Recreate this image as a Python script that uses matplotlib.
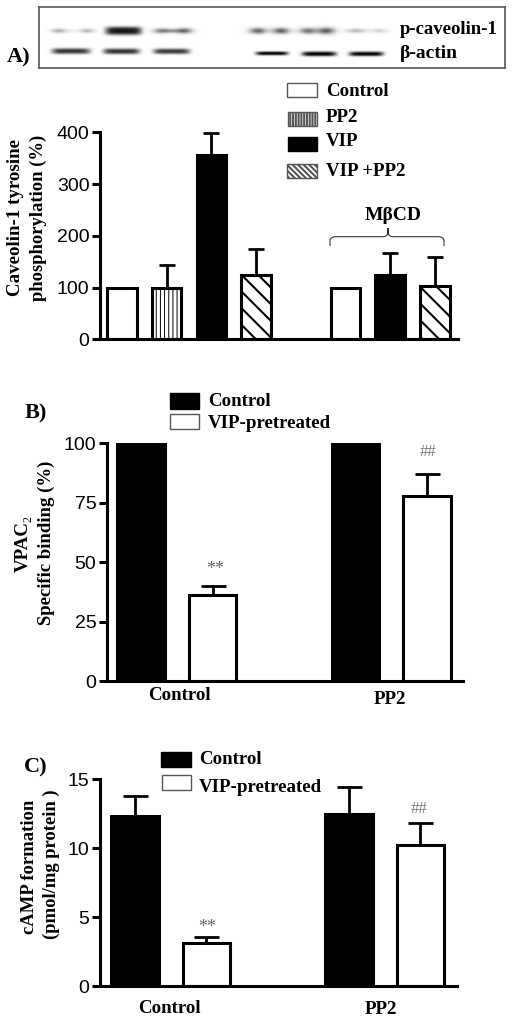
import numpy as np
import matplotlib
matplotlib.use("Agg")
import matplotlib.pyplot as plt
from matplotlib.patches import Rectangle, PathPatch
from matplotlib.path import Path
from matplotlib.transforms import Affine2D

W, H = 512, 1022
SERIF = "Liberation Serif"
SANS = "Liberation Sans"

# Panel A data
a_pos = [0, 1, 2, 3, 5, 6, 7]
a_vals = [100, 100, 357, 125, 100, 125, 103]
a_errs = [0, 44, 41, 50, 0, 42, 56]
a_face = ["white", "white", "black", "white", "white", "black", "white"]
a_hatch = ["", "||||", "", "\\\\", "", "", "\\\\"]
a_ticks = [0, 100, 200, 300, 400]

# Panel B data
b_pos = [0, 1, 3, 4]
b_vals = [100, 36, 100, 78]
b_errs = [0, 4, 0, 9]
b_ticks = [0, 25, 50, 75, 100]

# Panel C data
c_pos = [0, 1, 3, 4]
c_vals = [12.3, 3.1, 12.5, 10.2]
c_errs = [1.5, 0.5, 1.9, 1.6]
c_ticks = [0, 5, 10, 15]

pair_face = ["black", "white", "black", "white"]

plt.rcParams["hatch.linewidth"] = 1.5
fig = plt.figure(figsize=(W / 100, H / 100), dpi=100, facecolor="white")
# pixel coordinates, origin at top-left of the image
px = Affine2D().scale(1 / W, -1 / H).translate(0, 1) + fig.transFigure


def make_axes(x0, x1, ytop, ybot):
    ax = fig.add_axes([x0 / W, 1 - ybot / H, (x1 - x0) / W, (ybot - ytop) / H])
    ax.patch.set_alpha(0)
    for s in ("top", "right"):
        ax.spines[s].set_visible(False)
    for s in ("left", "bottom"):
        ax.spines[s].set_linewidth(2.2)
    ax.set_xticks([])
    ax.tick_params(axis="y", length=6, width=2.2, pad=1.5, labelsize=14)
    return ax


def bars(ax, pos, vals, errs, faces, hatches, width, cap, lw=2.2):
    container = ax.bar(pos, vals, width=width, color=faces, edgecolor="black", linewidth=lw,
                       hatch=hatches, zorder=2)
    for patch in container:
        if patch.get_hatch() == "||||":
            patch.set_hatch_linewidth(0.7)
    for p, v, e in zip(pos, vals, errs):
        if e > 0:
            ax.errorbar([p], [v], yerr=[[0], [e]], color="black", elinewidth=2.0,
                        capsize=cap, capthick=2.0, zorder=1, fmt="none", clip_on=False)


def finish_ticks(ax):
    for lab in ax.get_yticklabels():
        lab.set_family(SANS)


def txt(x, y, s, size=13.6, ha="left", va="center", rot=0, color="black",
        weight="bold", family=SERIF):
    fig.text(x, y, s, transform=px, fontsize=size, ha=ha, va=va, rotation=rot,
             color=color, fontweight=weight, family=family)


def swatch(x0, x1, y0, y1, face, edge="#555555", hatch=None, lw=1.0):
    fig.add_artist(Rectangle((x0, y0), x1 - x0, y1 - y0, transform=px, facecolor=face,
                             edgecolor=edge, linewidth=lw, hatch=hatch))


# ---------- blot ----------
top_bands = [(58, 5, 1.5, 0.30), (70, 8, 1.2, 0.08), (87, 5, 1.5, 0.28),
             (161, 6, 1.7, 0.48), (171, 5, 1.2, 0.25), (183, 6, 1.8, 0.60),
             (257, 6, 2.0, 0.60), (280, 6, 2.0, 0.62),
             (307, 6, 2.0, 0.55), (325, 6, 2.2, 0.65), (355, 7, 1.5, 0.28), (378, 6, 1.5, 0.18)]
strong_band = (123, 18, 3.6, 0.92)
act_bands = [(70.5, 19, 2.5, 0.80), (121, 18, 2.5, 0.80), (171, 18, 2.4, 0.78),
             (271, 16, 1.7, 1.00), (318, 17, 2.1, 1.00), (365, 17, 2.0, 1.00)]
act_rows = [50.8, 51, 51, 53, 53.5, 53.5]
xx, yy = np.meshgrid(np.arange(39, 505), np.arange(8, 68))
dark = np.zeros(xx.shape)
for x, sx, sy, amp in top_bands:
    dark += amp * np.exp(-((xx - x) / sx) ** 2 / 2 - ((yy - 31) / sy) ** 2 / 2)
x, sx, sy, amp = strong_band
dark += amp * np.exp(-(np.abs(xx - x) / sx) ** 6 - (np.abs(yy - 31) / (sy * 1.1)) ** 3)
for (x, sx, sy, amp), row in zip(act_bands, act_rows):
    dark += amp * np.exp(-(np.abs(xx - x) / sx) ** 6 - (np.abs(yy - row) / (sy * 1.1)) ** 2.5)
blot_ax = fig.add_axes([38.5 / W, 1 - 68 / H, 466.5 / W, 61 / H])
blot_ax.imshow(1 - np.clip(dark, 0, 1), cmap="gray", vmin=0, vmax=1, aspect="auto")
blot_ax.set_xticks([])
blot_ax.set_yticks([])
for s in blot_ax.spines.values():
    s.set_color("#555555")
    s.set_linewidth(1.2)
txt(400, 29, "p-caveolin-1", size=13.5)
txt(400, 53, "β-actin", size=14)
txt(7, 57, "A)", size=16)

# ---------- panel A ----------
ax_a = make_axes(100, 458, 132.3, 339.5)
ax_a.set_xlim(-0.49, 7.52)
ax_a.set_ylim(0, 400)
ax_a.set_yticks(a_ticks)
finish_ticks(ax_a)
bars(ax_a, a_pos, a_vals, a_errs, a_face, a_hatch, 0.66, 6.0)
txt(15.5, 218, "Caveolin-1 tyrosine", size=13.6, ha="center", rot=90)
txt(38.5, 218, "phosphorylation (%)", size=13.4, ha="center", rot=90)

swatch(287, 317, 83, 97, "white")
swatch(288, 317, 112, 126, "white", hatch="||||||")
swatch(288, 317, 137, 151, "black", edge="black")
swatch(287, 317, 164, 178, "white", hatch="\\\\\\\\\\\\")
txt(326, 91, "Control")
txt(326, 117, "PP2")
txt(326, 141, "VIP")
txt(326, 172, "VIP +PP2")
txt(393, 216, "MβCD", size=14, ha="center")
brace = Path([(330, 246), (330, 240), (331, 237), (335, 236.7), (383, 236.7), (387, 236.7),
              (388, 233), (388, 228), (388, 233), (389, 236.7), (393, 236.7),
              (439, 236.7), (443, 237), (444, 240), (444, 246)],
             [Path.MOVETO, Path.LINETO, Path.CURVE3, Path.CURVE3, Path.LINETO, Path.CURVE3,
              Path.CURVE3, Path.LINETO, Path.LINETO, Path.CURVE3, Path.CURVE3, Path.LINETO,
              Path.CURVE3, Path.CURVE3, Path.LINETO])
fig.add_artist(PathPatch(brace, transform=px, facecolor="none", edgecolor="#333333", linewidth=0.8))

# ---------- panel B ----------
ax_b = make_axes(106.7, 463, 443.3, 681)
ax_b.set_xlim(-0.48, 4.5)
ax_b.set_ylim(0, 100)
ax_b.set_yticks(b_ticks)
finish_ticks(ax_b)
bars(ax_b, b_pos, b_vals, b_errs, pair_face, None, 0.665, 9.0)
txt(23, 572, "VPAC", size=13.6, ha="center", va="bottom", rot=90)
txt(28, 521.5, "2", size=8.5, ha="center", va="bottom", rot=90, weight="normal")
txt(46, 543, "Specific binding (%)", size=13.5, ha="center", rot=90)
txt(25, 413, "B)", size=16)
swatch(170, 199, 393, 409, "black", edge="black")
swatch(170, 199, 414, 429, "white")
txt(208, 402, "Control")
txt(208, 423, "VIP-pretreated")
txt(179, 696, "Control", ha="center")
txt(390, 699, "PP2", ha="center")
txt(215, 569, "**", size=13, ha="center", color="#666666", weight="normal")
txt(428, 452, "##", size=12, ha="center", color="#777777", weight="normal")

# ---------- panel C ----------
ax_c = make_axes(100, 456.7, 779, 986.3)
ax_c.set_xlim(-0.49, 4.51)
ax_c.set_ylim(0, 15)
ax_c.set_yticks(c_ticks)
finish_ticks(ax_c)
bars(ax_c, c_pos, c_vals, c_errs, pair_face, None, 0.665, 9.0)
txt(29.5, 867, "cAMP formation", size=13.4, ha="center", rot=90)
txt(51, 864, "(pmol/mg protein )", size=13.4, ha="center", rot=90)
txt(24, 767, "C)", size=16)
swatch(161, 191, 752, 767, "black", edge="black")
swatch(162, 191, 775, 790, "white")
txt(199, 760, "Control")
txt(199, 787, "VIP-pretreated")
txt(169, 1008.5, "Control", ha="center")
txt(381, 1010, "PP2", ha="center")
txt(207, 928, "**", size=13, ha="center", color="#666666", weight="normal")
txt(419, 809, "##", size=12, ha="center", color="#777777", weight="normal")

fig.savefig("out.png", dpi=100, facecolor="white")
